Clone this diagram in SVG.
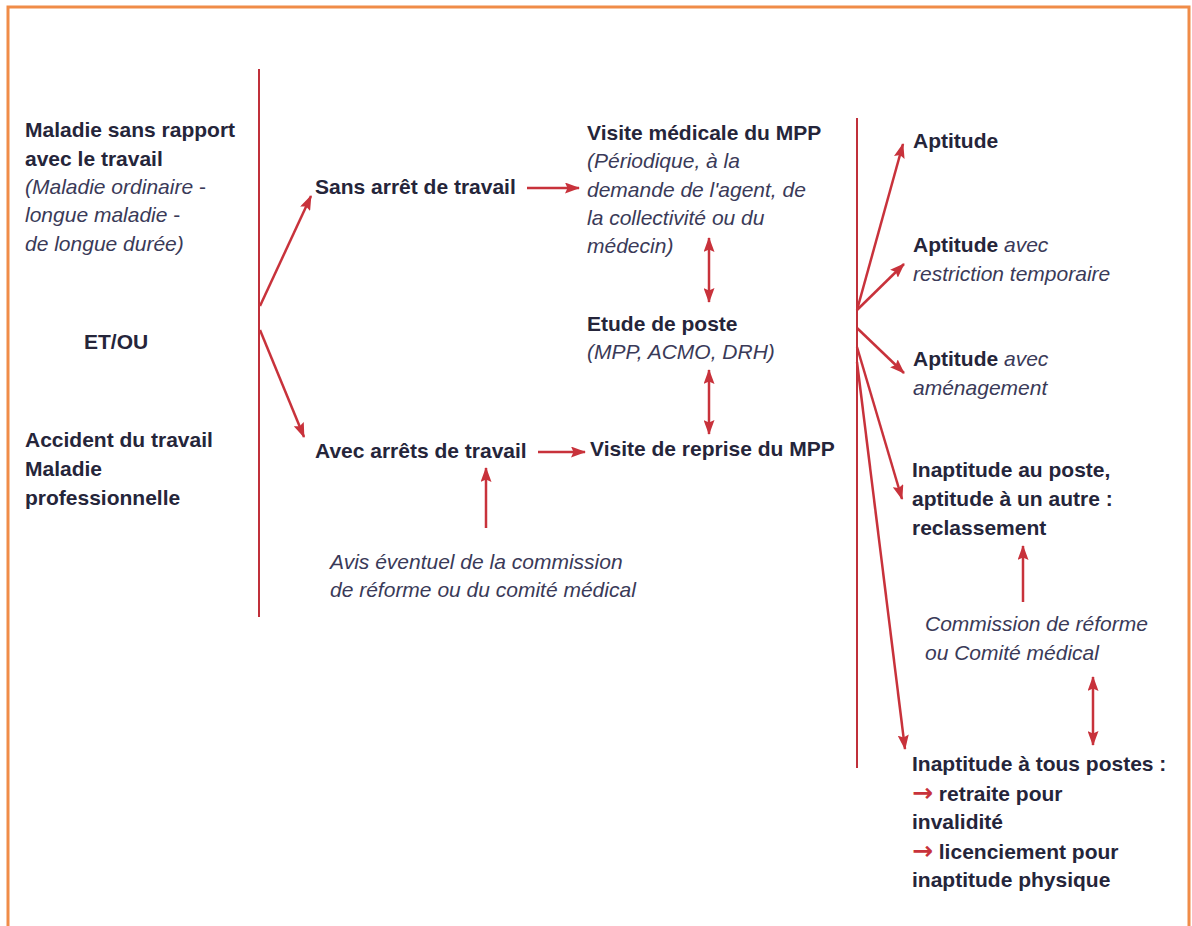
<svg xmlns="http://www.w3.org/2000/svg" width="1192" height="926" viewBox="0 0 1192 926">
<defs>
<marker id="ah" viewBox="0 0 15 11" refX="14" refY="5.5" markerWidth="15" markerHeight="11" markerUnits="userSpaceOnUse" orient="auto-start-reverse">
<path d="M0,0 L15,5.5 L0,11 L2.5,5.5 z" fill="#C8323B"/>
</marker>
<style>
.t{font-family:"Liberation Sans",Arial,sans-serif;font-size:21px;fill:#25253a}
.b{font-weight:bold}
.i{font-style:italic;fill:#3a3a58}
.r{fill:#C8323B;font-weight:bold;font-family:"DejaVu Sans",sans-serif;font-size:25px}
.sep{stroke:#C0303A;stroke-width:2;fill:none}
.c{stroke:#C8323B;stroke-width:2.5;fill:none;marker-end:url(#ah)}
.d{stroke:#C8323B;stroke-width:2.5;fill:none;marker-end:url(#ah);marker-start:url(#ah)}
</style>
</defs>
<rect x="0" y="0" width="1192" height="926" fill="#ffffff"/>
<path d="M8,940 L8,7 L1189,7 L1189,940" fill="none" stroke="#F08C48" stroke-width="3"/>

<g id="separators">
<line class="sep" x1="259" y1="69" x2="259" y2="617"/>
<line class="sep" x1="857" y1="118" x2="857" y2="768"/>
</g>

<g id="connectors">
<line class="c" x1="260" y1="306" x2="311" y2="196"/>
<line class="c" x1="260" y1="330" x2="304" y2="437"/>
<line class="c" x1="527" y1="188" x2="579" y2="188"/>
<line class="c" x1="538" y1="452" x2="585" y2="452"/>
<line class="d" x1="709" y1="238" x2="709" y2="302"/>
<line class="d" x1="709" y1="370" x2="709" y2="434"/>
<line class="c" x1="486" y1="528" x2="486" y2="468"/>
<line class="c" x1="857" y1="310" x2="903" y2="144"/>
<line class="c" x1="857" y1="310" x2="904" y2="264"/>
<line class="c" x1="857" y1="328" x2="904" y2="373"/>
<line class="c" x1="857" y1="347" x2="902" y2="499"/>
<line class="c" x1="857" y1="362" x2="905" y2="749"/>
<line class="c" x1="1023" y1="602" x2="1023" y2="546"/>
<line class="d" x1="1093" y1="677" x2="1093" y2="745"/>
</g>

<g id="maladie">
<text class="t b" x="25" y="137">Maladie sans rapport</text>
<text class="t b" x="25" y="166">avec le travail</text>
<text class="t i" x="25" y="194">(Maladie ordinaire<tspan style="font-style:normal"> -</tspan></text>
<text class="t i" x="25" y="222">longue maladie<tspan style="font-style:normal"> -</tspan></text>
<text class="t i" x="25" y="251">de longue durée)</text>
</g>
<g id="etou"><text class="t b" x="84" y="349">ET/OU</text></g>
<g id="accident">
<text class="t b" x="25" y="447">Accident du travail</text>
<text class="t b" x="25" y="476">Maladie</text>
<text class="t b" x="25" y="505">professionnelle</text>
</g>

<g id="sans-arret"><text class="t b" x="315" y="194">Sans arrêt de travail</text></g>
<g id="avec-arrets"><text class="t b" x="315" y="458">Avec arrêts de travail</text></g>

<g id="visite-medicale">
<text class="t b" x="587" y="140">Visite médicale du MPP</text>
<text class="t i" x="587" y="168">(Périodique, à la</text>
<text class="t i" x="587" y="197">demande de l'agent, de</text>
<text class="t i" x="587" y="225">la collectivité ou du</text>
<text class="t i" x="587" y="253">médecin)</text>
</g>
<g id="etude-poste">
<text class="t b" x="587" y="331">Etude de poste</text>
<text class="t i" x="587" y="359">(MPP, ACMO, DRH)</text>
</g>
<g id="visite-reprise"><text class="t b" x="590" y="456">Visite de reprise du MPP</text></g>
<g id="avis">
<text class="t i" x="330" y="569">Avis éventuel de la commission</text>
<text class="t i" x="330" y="597">de réforme ou du comité médical</text>
</g>

<g id="aptitude"><text class="t b" x="913" y="148">Aptitude</text></g>
<g id="aptitude-restriction">
<text class="t b" x="913" y="252">Aptitude <tspan class="i" style="font-weight:normal">avec</tspan></text>
<text class="t i" x="913" y="281">restriction temporaire</text>
</g>
<g id="aptitude-amenagement">
<text class="t b" x="913" y="366">Aptitude <tspan class="i" style="font-weight:normal">avec</tspan></text>
<text class="t i" x="913" y="395">aménagement</text>
</g>
<g id="inaptitude-poste">
<text class="t b" x="912" y="477">Inaptitude au poste,</text>
<text class="t b" x="912" y="506">aptitude à un autre :</text>
<text class="t b" x="912" y="535">reclassement</text>
</g>
<g id="commission">
<text class="t i" x="925" y="631">Commission de réforme</text>
<text class="t i" x="925" y="660">ou Comité médical</text>
</g>
<g id="inaptitude-tous">
<text class="t b" x="912" y="771">Inaptitude à tous postes :</text>
<text class="t b" x="912" y="801"><tspan class="r">→</tspan> retraite pour</text>
<text class="t b" x="912" y="829">invalidité</text>
<text class="t b" x="912" y="859"><tspan class="r">→</tspan> licenciement pour</text>
<text class="t b" x="912" y="887">inaptitude physique</text>
</g>
</svg>
